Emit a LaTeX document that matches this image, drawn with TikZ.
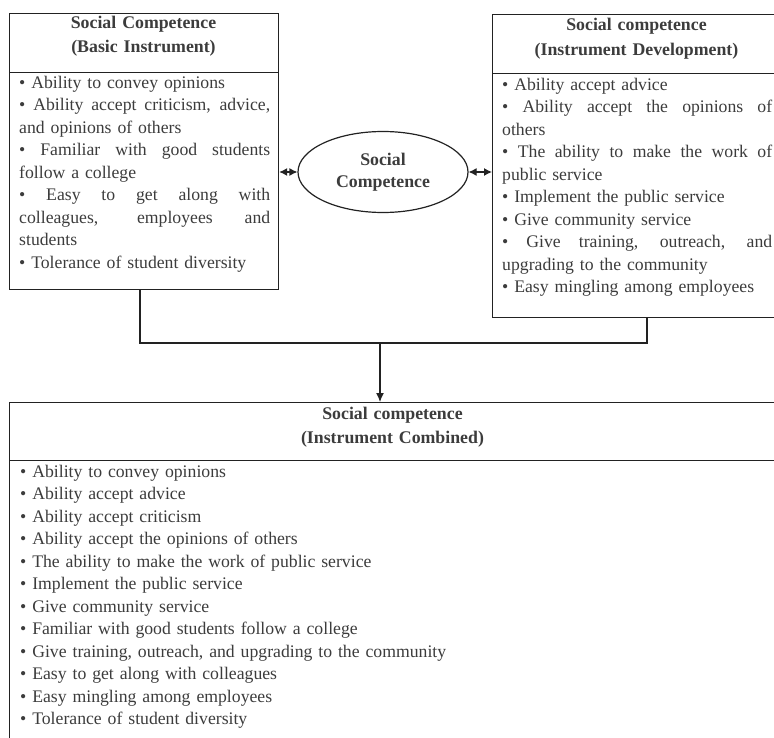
\documentclass[tikz,border=0pt]{standalone}
\usepackage{fontspec}
\setmainfont{Liberation Serif}
\usetikzlibrary{arrows.meta,shapes.geometric}
\definecolor{txt}{HTML}{3C3C3C}
\definecolor{ln}{HTML}{222222}
\newcommand{\jline}[2]{\leavevmode\hbox to #1{\spaceskip=.25em plus 1fil\relax #2}}
\begin{document}
\begin{tikzpicture}[x=1pt,y=-1pt,
  box/.style={draw=ln, line width=1.2pt, rectangle, inner sep=0pt, anchor=north west},
  ttl/.style={font=\fontsize{17.8}{24.5}\selectfont\bfseries, text=txt, align=center, anchor=north, inner sep=0pt, text width=280pt},
  body/.style={font=\fontsize{17.7}{22.5}\selectfont, text=txt, align=left, anchor=north west, inner sep=0pt},
  conn/.style={draw=ln, line width=1.2pt},
  dtip/.style={{Latex[length=8pt,width=8pt]}-{Latex[length=8pt,width=8pt]}},
  tip/.style={-{Latex[length=9pt,width=8pt]}}
]
\clip (0,0) rectangle (774,738);

% left box
\node[box, minimum width=269pt, minimum height=59pt] (Lh) at (9,13) {};
\node[box, minimum width=269pt, minimum height=217pt] (Lb) at (9,72) {};
\node[ttl] (Lt) at (143.5,10.85) {\strut Social Competence\\(Basic Instrument)};
\node[body, text width=251pt] (Ltx) at (19,72.25) {%
\strut • Ability to convey opinions\\
\jline{251pt}{• Ability accept criticism, advice,}\\
and opinions of others\\
\jline{251pt}{• Familiar with good students}\\
follow a college\\
\jline{251pt}{• Easy to get along with}\\
\jline{251pt}{colleagues, employees and}\\
students\\
• Tolerance of student diversity};

% right box
\node[box, minimum width=289pt, minimum height=244pt] (Rb) at (492,73) {};
\node[box, minimum width=289pt, minimum height=59pt] (Rh) at (492,14) {};
\node[ttl] (Rt) at (636.5,13.35) {\strut Social competence\\(Instrument Development)};
\node[body, text width=270pt] (Rtx) at (502,74.25) {%
\strut • Ability accept advice\\
\jline{270pt}{• Ability accept the opinions of}\\
others\\
\jline{270pt}{• The ability to make the work of}\\
public service\\
• Implement the public service\\
• Give community service\\
\jline{270pt}{• Give training, outreach, and}\\
upgrading to the community\\
• Easy mingling among employees};

% ellipse
\node[draw=ln, line width=1.2pt, ellipse, minimum width=170pt, minimum height=81pt, inner sep=0pt,
      font=\fontsize{17.8}{22}\selectfont\bfseries, text=txt, align=center] (E) at (383,172) {Social\\Competence};

% bottom box
\node[box, minimum width=767pt, minimum height=58pt] (Bh) at (9,402) {};
\node[box, minimum width=767pt, minimum height=320pt] (Bb) at (9,460) {};
\node[ttl] (Bt) at (392.5,401.85) {\strut Social competence\\(Instrument Combined)};
\node[body, text width=700pt] (Btx) at (20,461.25) {%
\strut • Ability to convey opinions\\
• Ability accept advice\\
• Ability accept criticism\\
• Ability accept the opinions of others\\
• The ability to make the work of public service\\
• Implement the public service\\
• Give community service\\
• Familiar with good students follow a college\\
• Give training, outreach, and upgrading to the community\\
• Easy to get along with colleagues\\
• Easy mingling among employees\\
• Tolerance of student diversity};

% connectors
\draw[conn, dtip] (E.west -| Lb.east) -- (E.west);
\draw[conn, dtip] (E.east) -- (E.east -| Rb.west);
\coordinate (lj) at (140,343);
\coordinate (rj) at (647,343);
\coordinate (cj) at (380,343);
\draw[conn] (Lb.south -| lj) -- (lj) -- (rj) -- (Rb.south -| rj);
\draw[conn, tip] (cj) -- (Bh.north -| cj);
\end{tikzpicture}
\end{document}
